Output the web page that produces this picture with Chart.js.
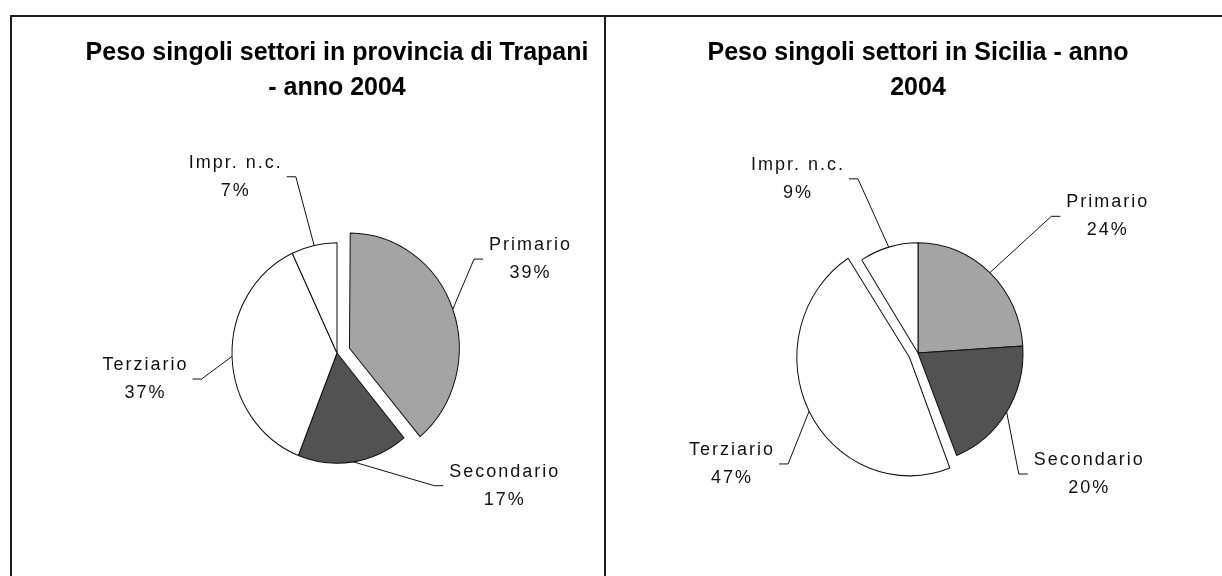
<!DOCTYPE html>
<html>
<head>
<meta charset="utf-8">
<script src="https://cdn.jsdelivr.net/npm/chart.js@4"></script>
<style>
  html, body { margin: 0; padding: 0; background: #fff; }
  body { width: 1222px; height: 576px; position: relative; overflow: hidden; }
  #frame { position: absolute; left: 10px; top: 15px; right: -10px; bottom: -10px; border-top: 2px solid #1e1e1e; border-left: 2px solid #1e1e1e; }
  #divider { position: absolute; left: 604px; top: 15px; bottom: 0; width: 2px; background: #1e1e1e; }
  canvas { position: absolute; top: 0; }
  #trapani { left: 57px; }
  #sicilia { left: 638px; }
</style>
</head>
<body>
<div id="frame"></div>
<div id="divider"></div>
<canvas id="trapani" width="560" height="576"></canvas>
<canvas id="sicilia" width="560" height="576"></canvas>
<script>
// sectors and their share (%) of firms, 2004
let sectors = ['Primario', 'Secondario', 'Terziario', 'Impr. n.c.'];
let trapaniShare = [39, 17, 37, 7];
let siciliaShare = [24, 20, 47, 9];

let trapaniTitle = ['Peso singoli settori in provincia di Trapani', '- anno 2004'];
let siciliaTitle = ['Peso singoli settori in Sicilia - anno', '2004'];

// slice fills, same for both pies
let sliceColors = ['#a4a4a4', '#525252', '#ffffff', '#ffffff'];

// where each label block sits: [angle from 12 o'clock in degrees, distance in radii]
let trapaniLabelSpots = [[64, 2.04], [128.5, 2.03], [262.3, 1.85], [329.9, 1.94]];
let siciliaLabelSpots = [[54.1, 2.22], [125.4, 1.99], [239.3, 2.07], [325.2, 2.02]];

// the old spreadsheet pies are a bit taller than wide
const PIE_STRETCH = 1.05;

// draws the pie slightly stretched and puts the outside labels with leader lines
const sliceLabels = {
    id: 'sliceLabels',
    beforeDatasetsDraw(chart) {
        let arc = chart.getDatasetMeta(0).data[0];
        let ctx = chart.ctx;
        ctx.save();
        ctx.translate(arc.x, arc.y);
        ctx.scale(1, PIE_STRETCH);
        ctx.translate(-arc.x, -arc.y);
    },
    afterDatasetsDraw(chart) {
        chart.ctx.restore();
    },
    afterDraw(chart, args, opts) {
        let ctx = chart.ctx;
        let labels = chart.data.labels;
        let values = chart.data.datasets[0].data;
        ctx.save();
        ctx.font = '18px "Liberation Sans", Arial, sans-serif';
        ctx.letterSpacing = '2px';
        ctx.fillStyle = '#111';
        ctx.strokeStyle = '#111';
        ctx.lineWidth = 1;
        ctx.textAlign = 'center';
        ctx.textBaseline = 'middle';
        chart.getDatasetMeta(0).data.forEach((arc, i) => {
            let p = arc.getProps(['x', 'y', 'startAngle', 'endAngle', 'outerRadius'], true);
            let mid = (p.startAngle + p.endAngle) / 2;
            // same shift the arc element uses for an exploded slice
            let shift = (arc.options.offset || 0) / 4 * (2 - Math.sin(Math.min(Math.PI, p.endAngle - p.startAngle)));
            let ax = p.x + Math.cos(mid) * (p.outerRadius + shift);
            let ay = p.y + Math.sin(mid) * (p.outerRadius + shift) * PIE_STRETCH;

            let [deg, dist] = opts.spots[i];
            let t = deg * Math.PI / 180;
            let tx = p.x + Math.sin(t) * dist * p.outerRadius;
            let ty = p.y - Math.cos(t) * dist * p.outerRadius;

            let lines = [labels[i], values[i] + '%'];
            let w = Math.max(...lines.map(s => ctx.measureText(s).width));
            let side = tx > ax ? -1 : 1;
            let stubEnd = tx + side * (w / 2 + 5);
            let elbow = stubEnd + side * 9;

            ctx.beginPath();
            ctx.moveTo(ax, ay);
            ctx.lineTo(elbow, ty);
            ctx.lineTo(stubEnd, ty);
            ctx.stroke();

            lines.forEach((s, j) => ctx.fillText(s, tx + 1, ty + (j - 0.5) * 28));
        });
        ctx.restore();
    }
};

// creates one pie with its two-line title
function makePie(canvasId, title, values, offsets, spots) {
    let ctx = document.querySelector(canvasId).getContext('2d');
    return new Chart(ctx, {
        type: 'pie',
        data: {
            labels: sectors,
            datasets: [{
                data: values,
                backgroundColor: sliceColors,
                borderColor: '#111',
                borderWidth: 1,
                offset: offsets,
                hoverOffset: 0,
            }]
        },
        options: {
            responsive: false,
            animation: false,
            events: [],
            radius: 105,
            layout: { padding: 0 },
            plugins: {
                legend: { display: false },
                tooltip: { enabled: false },
                title: {
                    display: true,
                    text: title,
                    color: '#000',
                    font: { family: '"Liberation Sans", Arial, sans-serif', size: 25, weight: 'bold', lineHeight: 1.42 },
                    padding: { top: 35, bottom: 24 },
                },
                sliceLabels: { spots: spots },
            }
        },
        plugins: [sliceLabels]
    });
}

let trapaniPie = makePie('#trapani', trapaniTitle, trapaniShare, [53, 0, 0, 0], trapaniLabelSpots);
let siciliaPie = makePie('#sicilia', siciliaTitle, siciliaShare, [0, 0, 38, 0], siciliaLabelSpots);
</script>
</body>
</html>
